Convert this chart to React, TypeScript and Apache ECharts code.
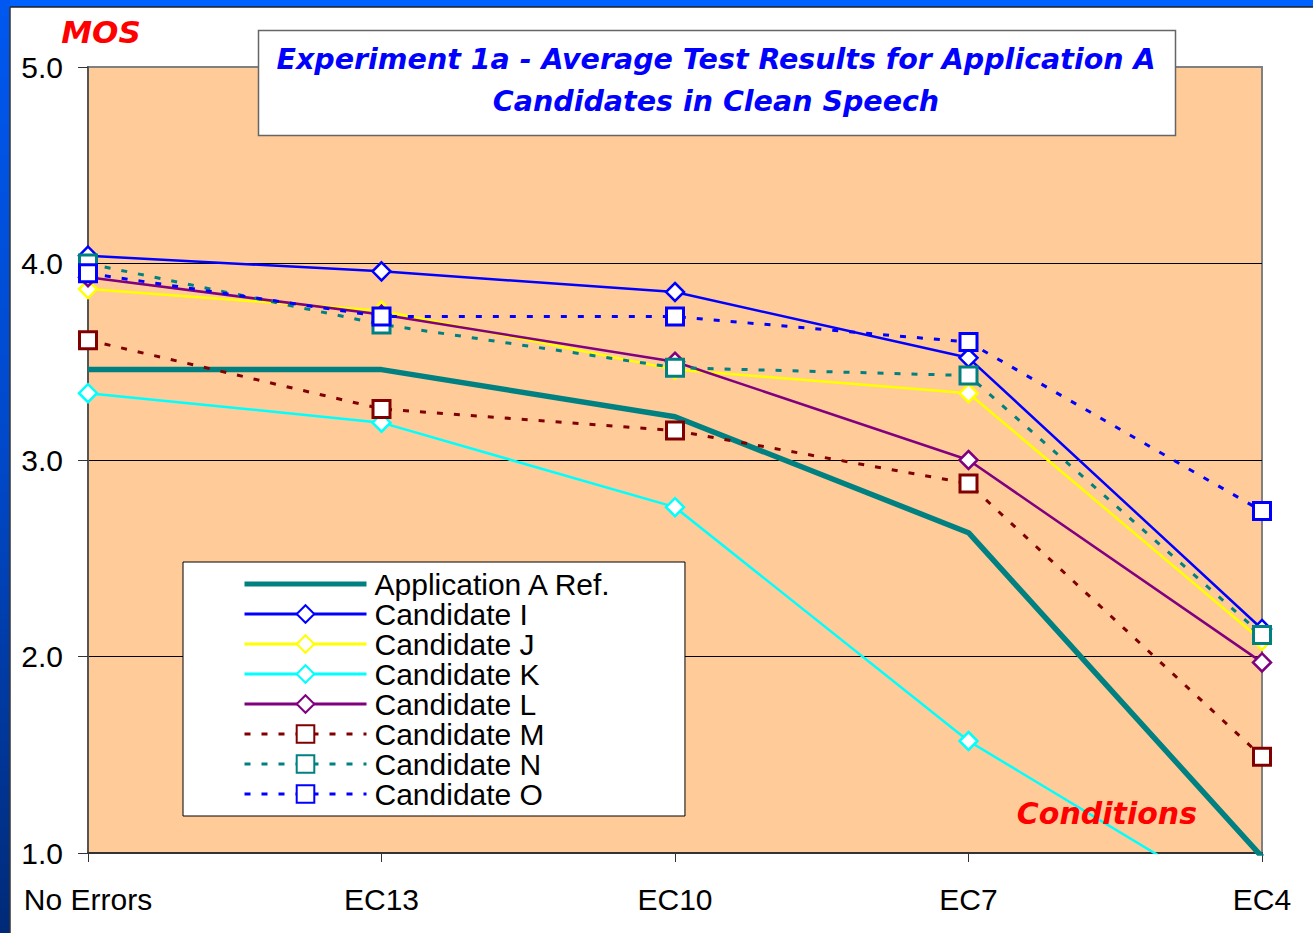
import React, { useEffect, useRef } from "react";
import * as echarts from "echarts";

// Test conditions along the x axis
const categories = ["No Errors", "EC13", "EC10", "EC7", "EC4"];

// Mean opinion scores per condition
const refA = [3.46, 3.46, 3.22, 2.63, 0.98];
const candI = [4.04, 3.96, 3.855, 3.52, 2.14];
const candJ = [3.87, 3.76, 3.46, 3.34, 2.08];
const candK = [3.34, 3.19, 2.76, 1.57, 0.67];
const candL = [3.93, 3.74, 3.5, 3.0, 1.97];
const candM = [3.61, 3.26, 3.15, 2.88, 1.49];
const candN = [4.0, 3.69, 3.47, 3.43, 2.11];
const candO = [3.95, 3.73, 3.73, 3.6, 2.74];

const yTicks = [1, 2, 3, 4, 5];

const SANS = "'Liberation Sans', Arial, sans-serif";
const WIDE = "'DejaVu Sans', Verdana, sans-serif";

function diamondSeries(name: string, data: number[], color: string) {
  return {
    name,
    type: "line",
    data,
    symbol: "diamond",
    symbolSize: 18,
    lineStyle: { color, width: 2.5 },
    itemStyle: { color: "#ffffff", borderColor: color, borderWidth: 2.5 },
  };
}

function squareSeries(name: string, data: number[], color: string) {
  return {
    name,
    type: "line",
    data,
    symbol: "rect",
    symbolSize: 17,
    lineStyle: { color, width: 3, type: [6, 11] },
    itemStyle: { color: "#ffffff", borderColor: color, borderWidth: 3 },
  };
}

export default function App() {
  const ref = useRef<HTMLDivElement>(null);

  useEffect(() => {
    if (!ref.current) return;
    const chart = echarts.init(ref.current, null, { renderer: "svg" });

    chart.setOption({
      animation: false,
      backgroundColor: "#ffffff",
      grid: {
        left: 88,
        right: 51,
        top: 67,
        bottom: 80,
        show: true,
        backgroundColor: "#FFCC99",
        borderColor: "#808080",
        borderWidth: 2,
      },
      xAxis: {
        type: "category",
        data: categories,
        boundaryGap: false,
        axisLine: { show: true, lineStyle: { color: "#333333", width: 2 } },
        axisTick: { show: true, length: 9, lineStyle: { color: "#333333", width: 1 } },
        axisLabel: { color: "#000000", fontSize: 30, fontFamily: SANS, margin: 31 },
        splitLine: { show: false },
      },
      yAxis: {
        type: "value",
        min: yTicks[0],
        max: yTicks[yTicks.length - 1],
        interval: 1,
        axisLine: { show: true, lineStyle: { color: "#555555", width: 2 } },
        axisTick: { show: true, length: 10, lineStyle: { color: "#333333", width: 1 } },
        axisLabel: {
          color: "#000000",
          fontSize: 30,
          fontFamily: SANS,
          margin: 25,
          formatter: (v: number) => v.toFixed(1),
        },
        splitLine: {
          show: true,
          showMinLine: false,
          showMaxLine: false,
          lineStyle: { color: "#000000", width: 1 },
        },
      },
      legend: {
        orient: "vertical",
        left: 183,
        top: 562,
        itemWidth: 122,
        itemHeight: 22,
        itemGap: 0,
        padding: [7, 72, 7, 60],
        backgroundColor: "#ffffff",
        borderColor: "#000000",
        borderWidth: 1,
        selectedMode: false,
        lineStyle: { width: 3 },
        textStyle: {
          color: "#000000",
          fontSize: 30,
          fontFamily: SANS,
          lineHeight: 30,
          padding: [0, 0, 0, 3],
        },
        data: [
          { name: "Application A Ref.", icon: "path://M0,0 L122,0 L122,5 L0,5 Z" },
          "Candidate I",
          "Candidate J",
          "Candidate K",
          "Candidate L",
          "Candidate M",
          "Candidate N",
          "Candidate O",
        ],
      },
      graphic: [
        // blue slide frame along the top and left edges
        {
          type: "rect",
          shape: { x: 0, y: 0, width: 1313, height: 7 },
          style: { fill: "#0062FF" },
          z: 50,
        },
        {
          type: "rect",
          shape: { x: 0, y: 0, width: 10, height: 933 },
          style: {
            fill: new echarts.graphic.LinearGradient(0, 0, 0, 1, [
              { offset: 0, color: "#0058F0" },
              { offset: 0.5, color: "#0048C8" },
              { offset: 1, color: "#002A78" },
            ]),
          },
          z: 50,
        },
        {
          type: "line",
          shape: { x1: 10, y1: 7, x2: 1313, y2: 7 },
          style: { stroke: "#222222", lineWidth: 1.5 },
          z: 50,
        },
        {
          type: "line",
          shape: { x1: 10, y1: 7, x2: 10, y2: 933 },
          style: { stroke: "#333333", lineWidth: 1.5 },
          z: 50,
        },
        // title box
        {
          type: "rect",
          shape: { x: 258.5, y: 30.5, width: 917, height: 105 },
          style: { fill: "#ffffff", stroke: "#666666", lineWidth: 1.5 },
          z: 100,
        },
        {
          type: "text",
          x: 716,
          y: 59,
          style: {
            text: "Experiment 1a - Average Test Results for Application A",
            fill: "#0000FF",
            font: `italic bold 28.5px ${WIDE}`,
            textAlign: "center",
            textVerticalAlign: "middle",
          },
          z: 101,
        },
        {
          type: "text",
          x: 716,
          y: 101,
          style: {
            text: "Candidates in Clean Speech",
            fill: "#0000FF",
            font: `italic bold 28.5px ${WIDE}`,
            textAlign: "center",
            textVerticalAlign: "middle",
          },
          z: 101,
        },
        // axis captions
        {
          type: "text",
          x: 101,
          y: 32,
          style: {
            text: "MOS",
            fill: "#FF0000",
            font: `italic bold 31px ${WIDE}`,
            textAlign: "center",
            textVerticalAlign: "middle",
          },
          z: 101,
        },
        {
          type: "text",
          x: 1197,
          y: 813,
          style: {
            text: "Conditions",
            fill: "#FF0000",
            font: `italic bold 30px ${WIDE}`,
            textAlign: "right",
            textVerticalAlign: "middle",
          },
          z: 101,
        },
      ],
      series: [
        {
          name: "Application A Ref.",
          type: "line",
          data: refA,
          symbol: "none",
          lineStyle: { color: "#008080", width: 5.5 },
          itemStyle: { color: "#008080" },
        },
        diamondSeries("Candidate I", candI, "#0000FF"),
        diamondSeries("Candidate J", candJ, "#FFFF00"),
        diamondSeries("Candidate K", candK, "#00FFFF"),
        diamondSeries("Candidate L", candL, "#800080"),
        squareSeries("Candidate M", candM, "#800000"),
        squareSeries("Candidate N", candN, "#008080"),
        squareSeries("Candidate O", candO, "#0000FF"),
      ],
    });

    return () => chart.dispose();
  }, []);

  return (
    <div
      ref={ref}
      style={{ position: "absolute", left: 0, top: 0, width: 1313, height: 933 }}
    />
  );
}
